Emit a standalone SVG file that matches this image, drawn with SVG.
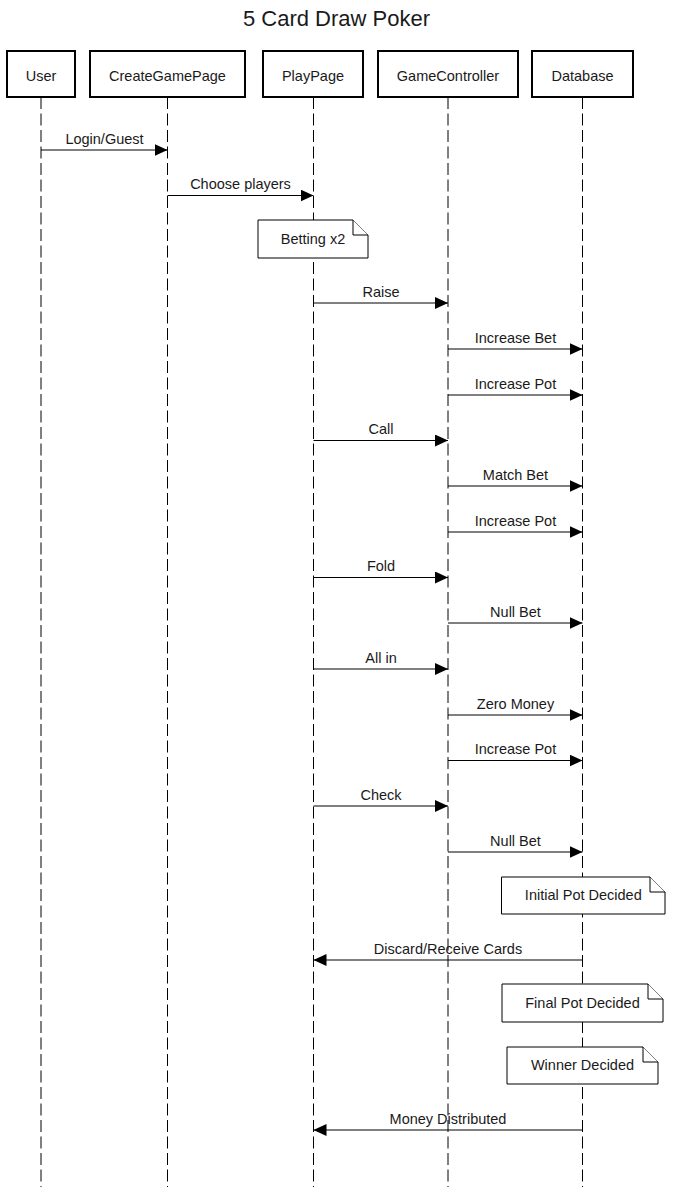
<svg xmlns="http://www.w3.org/2000/svg" width="673" height="1187" viewBox="0 0 673 1187">
  <style>
    .box { fill: #ffffff; stroke: #000000; stroke-width: 2; }
    .life { stroke: #000000; stroke-width: 1; stroke-dasharray: 12 4.5; fill: none; }
    .msg { stroke: #000000; stroke-width: 1; fill: none; marker-end: url(#arrow); }
    .note { fill: #ffffff; stroke: #000000; stroke-width: 1; }
    text { font-family: "Liberation Sans", Arial, sans-serif; font-size: 14.5px; fill: #1a1a1a; text-anchor: middle; }
    .title { font-size: 22px; }
  </style>
  <defs>
    <marker id="arrow" markerUnits="userSpaceOnUse" markerWidth="14" markerHeight="13" refX="13" refY="6" orient="auto">
      <path d="M0,0 L13,6 L0,12 Z" fill="#000000"/>
    </marker>
  </defs>
  <rect width="673" height="1187" fill="#ffffff"/>
  <text class="title" x="336.5" y="25.5">5 Card Draw Poker</text>

  <g id="user">
    <line class="life" x1="41" y1="97" x2="41" y2="1187"/>
    <rect class="box" x="7" y="51" width="68" height="46"/>
    <text x="41" y="80.5">User</text>
  </g>
  <g id="creategamepage">
    <line class="life" x1="167.5" y1="97" x2="167.5" y2="1187"/>
    <rect class="box" x="90" y="51" width="155" height="46"/>
    <text x="167.5" y="80.5">CreateGamePage</text>
  </g>
  <g id="playpage">
    <line class="life" x1="313.5" y1="97" x2="313.5" y2="1187"/>
    <rect class="box" x="263" y="51" width="100" height="46"/>
    <text x="313" y="80.5">PlayPage</text>
  </g>
  <g id="gamecontroller">
    <line class="life" x1="448" y1="97" x2="448" y2="1187"/>
    <rect class="box" x="378" y="51" width="140" height="46"/>
    <text x="448" y="80.5">GameController</text>
  </g>
  <g id="database">
    <line class="life" x1="582.5" y1="97" x2="582.5" y2="1187"/>
    <rect class="box" x="532" y="51" width="101" height="46"/>
    <text x="582.5" y="80.5">Database</text>
  </g>

  <g id="connectors">
    <line class="msg" x1="41" y1="150" x2="167.5" y2="150"/>
    <text x="104.5" y="143.5">Login/Guest</text>
    <line class="msg" x1="167.5" y1="195.5" x2="313.5" y2="195.5"/>
    <text x="240.5" y="189">Choose players</text>

    <line class="msg" x1="313.5" y1="303" x2="448" y2="303"/>
    <text x="381" y="296.5">Raise</text>
    <line class="msg" x1="448" y1="349" x2="582.5" y2="349"/>
    <text x="515.5" y="342.5">Increase Bet</text>
    <line class="msg" x1="448" y1="395" x2="582.5" y2="395"/>
    <text x="515.5" y="388.5">Increase Pot</text>

    <line class="msg" x1="313.5" y1="440.5" x2="448" y2="440.5"/>
    <text x="381" y="434">Call</text>
    <line class="msg" x1="448" y1="486" x2="582.5" y2="486"/>
    <text x="515.5" y="479.5">Match Bet</text>
    <line class="msg" x1="448" y1="532" x2="582.5" y2="532"/>
    <text x="515.5" y="525.5">Increase Pot</text>

    <line class="msg" x1="313.5" y1="577.5" x2="448" y2="577.5"/>
    <text x="381" y="571">Fold</text>
    <line class="msg" x1="448" y1="623" x2="582.5" y2="623"/>
    <text x="515.5" y="616.5">Null Bet</text>

    <line class="msg" x1="313.5" y1="669" x2="448" y2="669"/>
    <text x="381" y="662.5">All in</text>
    <line class="msg" x1="448" y1="715" x2="582.5" y2="715"/>
    <text x="515.5" y="708.5">Zero Money</text>
    <line class="msg" x1="448" y1="760.5" x2="582.5" y2="760.5"/>
    <text x="515.5" y="754">Increase Pot</text>

    <line class="msg" x1="313.5" y1="806" x2="448" y2="806"/>
    <text x="381" y="799.5">Check</text>
    <line class="msg" x1="448" y1="852" x2="582.5" y2="852"/>
    <text x="515.5" y="845.5">Null Bet</text>

    <line class="msg" x1="582.5" y1="960" x2="313.5" y2="960"/>
    <text x="448" y="953.5">Discard/Receive Cards</text>
    <line class="msg" x1="582.5" y1="1130" x2="313.5" y2="1130"/>
    <text x="448" y="1123.5">Money Distributed</text>
  </g>

  <g id="note-betting">
    <path class="note" d="M258,220 H353 L368,235 V258 H258 Z"/>
    <path class="note" d="M353,220 V235 H368" fill="none"/>
    <text x="313" y="244">Betting x2</text>
  </g>
  <g id="note-initial-pot">
    <path class="note" d="M501.5,877 H650 L665,892 V914 H501.5 Z"/>
    <path class="note" d="M650,877 V892 H665" fill="none"/>
    <text x="583.3" y="900">Initial Pot Decided</text>
  </g>
  <g id="note-final-pot">
    <path class="note" d="M502,984 H648 L663,999 V1022 H502 Z"/>
    <path class="note" d="M648,984 V999 H663" fill="none"/>
    <text x="582.5" y="1007.5">Final Pot Decided</text>
  </g>
  <g id="note-winner">
    <path class="note" d="M507,1047 H643 L658,1062 V1084 H507 Z"/>
    <path class="note" d="M643,1047 V1062 H658" fill="none"/>
    <text x="582.5" y="1070">Winner Decided</text>
  </g>
</svg>
